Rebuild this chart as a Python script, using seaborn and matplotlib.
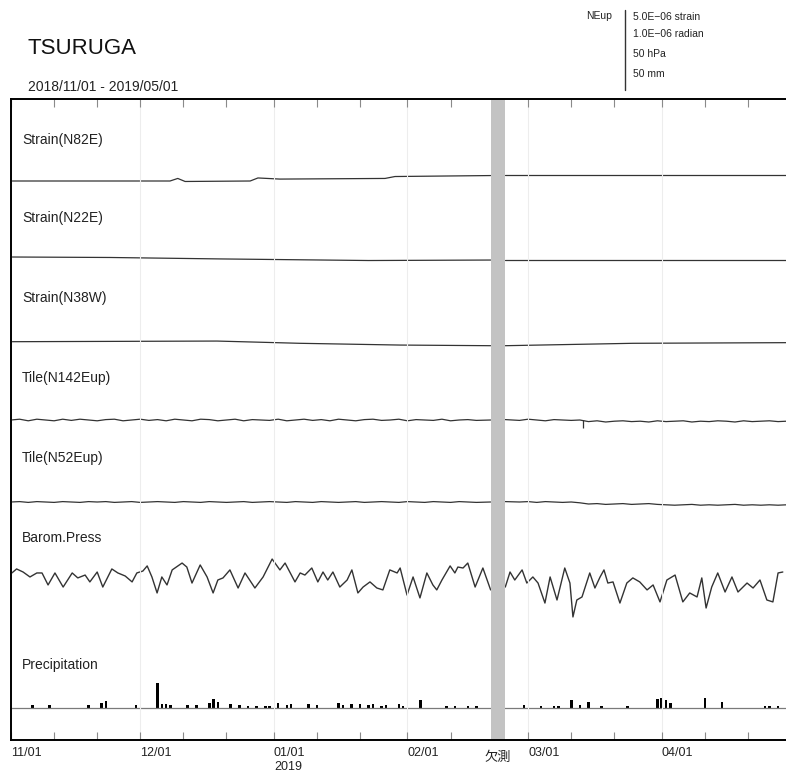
import numpy as np
import pandas as pd
import matplotlib
matplotlib.use("Agg")
import matplotlib.pyplot as plt
import matplotlib.dates as mdates
import matplotlib.transforms as mtransforms
from matplotlib.lines import Line2D
import seaborn as sns

sns.set_theme(style="white")
plt.rcParams["font.family"] = ["Liberation Sans", "Noto Sans CJK JP", "DejaVu Sans"]

# --- DATI (giorni dal 2018/11/01) ---
START = pd.Timestamp("2018-11-01")
END = pd.Timestamp("2019-05-01")
gap_start = pd.Timestamp("2019-02-20 10:00")
gap_end = pd.Timestamp("2019-02-23 14:00")

# strain in unita' di 1e-6
n82e_days = [0, 36.9, 38.7, 40.4, 55.5, 57.3, 62.4, 86.8, 89.1, 111.3, 114.7, 179.8]
n82e_vals = [0.0, 0.0, 0.16, -0.03, 0.0, 0.19, 0.12, 0.16, 0.28, 0.34, 0.37, 0.37]

n22e_days = [0, 23, 48.5, 83, 111.3, 114.7, 140, 180]
n22e_vals = [0.0, -0.03, -0.12, -0.22, -0.19, -0.19, -0.19, -0.19]

n38w_days = [0, 47.8, 67, 90.3, 111.3, 114.7, 144.3, 180]
n38w_vals = [0.0, 0.04, -0.1, -0.21, -0.25, -0.25, -0.1, -0.06]

# tilt in unita' di 1e-6 rad, un campione ogni 2 giorni circa (buco 111-115)
tilt_days = list(range(0, 110, 2)) + [111.3] + [114.7] + list(range(118, 181, 2))
n142_vals = [0.00, 0.01, -0.01, 0.01, 0.00, -0.01, 0.01, -0.005, 0.01, 0.0,
             -0.01, 0.005, 0.01, -0.01, 0.0, 0.01, -0.005, 0.005, -0.01, 0.01,
             0.0, -0.01, 0.01, 0.005, -0.01, 0.0, 0.01, -0.01, 0.005, 0.0,
             -0.005, 0.01, -0.01, 0.0, 0.01, -0.005, 0.005, -0.01, 0.01, 0.0,
             -0.01, 0.005, 0.01, -0.005, 0.0, 0.01, -0.01, 0.005, 0.0, -0.005,
             0.01, -0.01, 0.0, 0.005, -0.005, 0.0,
             0.005, -0.005, 0.01, 0.0, -0.01, 0.005, 0.0, -0.005, 0.0,
             -0.02, -0.01, -0.025, -0.015, -0.01, -0.02, -0.015, -0.025, -0.01, -0.02,
             -0.015, -0.01, -0.025, -0.015, -0.02, -0.01, -0.015, -0.025, -0.01, -0.02,
             -0.015, -0.01, -0.02, -0.015]
n142_spike_day = 132.7
n142_spike_val = -0.1

n52_vals = [0.0, 0.005, -0.005, 0.005, 0.0, -0.005, 0.005, 0.0, -0.005, 0.005,
            0.0, 0.005, -0.005, 0.0, 0.005, -0.005, 0.0, 0.005, 0.0, -0.005,
            0.005, 0.0, -0.005, 0.005, 0.0, -0.005, 0.0, 0.005, -0.005, 0.0,
            0.005, 0.0, -0.005, 0.005, 0.0, -0.005, 0.005, 0.0, -0.005, 0.0,
            0.005, -0.005, 0.0, 0.005, 0.0, -0.005, 0.005, 0.0, -0.005, 0.005,
            0.0, -0.005, 0.005, 0.0, -0.005, 0.0,
            0.005, 0.0, 0.005, -0.005, 0.005, 0.0, -0.005, 0.0, -0.01,
            -0.025, -0.02, -0.03, -0.025, -0.02, -0.03, -0.025, -0.02, -0.03,
            -0.035, -0.04, -0.035, -0.03, -0.04, -0.035, -0.04, -0.035, -0.03, -0.04,
            -0.035, -0.04, -0.035, -0.04, -0.035]

# pressione (hPa)
barom_days = [0.2, 1.3, 2.8, 4.4, 6.0, 7.2, 8.6, 10.2, 12.1, 14.2, 15.5, 17.2, 18.3, 20.0, 21.3,
              23.4, 24.8, 26.5, 28.1, 29.2, 30.6, 31.6, 32.7, 33.9, 35.0, 36.2, 37.4, 39.7, 40.8,
              42.0, 43.9, 45.5, 46.9, 48.0, 49.2, 50.8, 52.7, 54.3, 56.6, 58.5, 60.6, 62.4, 63.6,
              65.9, 67.1, 68.2, 69.8, 71.2, 72.4, 73.5, 74.7, 76.3, 78.0, 79.1, 80.5, 81.7, 83.3,
              84.9, 86.3, 87.9, 89.6, 90.3, 91.9, 93.3, 94.9, 96.5, 97.9, 98.8, 100.0, 101.9,
              103.0, 103.7, 104.9, 106.0, 107.7, 109.5, 111.3,
              114.7, 115.8, 116.9, 118.6, 119.7, 121.1, 122.3, 123.9, 125.1, 126.7, 128.5, 129.7,
              130.4, 131.3, 132.5, 134.3, 135.5, 136.7, 137.6, 138.5, 139.7, 141.3, 142.9, 144.3,
              145.9, 147.6, 149.0, 150.6, 152.2, 154.1, 155.9, 157.5, 159.2, 160.3, 161.3, 162.6,
              164.0, 165.7, 167.3, 168.7, 170.8, 172.2, 173.8, 175.4, 176.8, 178.0, 179.1]
barom_hpa = [1019.4, 1021.9, 1020.0, 1016.9, 1019.4, 1019.4, 1011.9, 1019.4, 1010.6, 1019.4,
             1016.3, 1018.1, 1013.8, 1020.0, 1010.6, 1021.9, 1019.4, 1017.5, 1013.8, 1019.4,
             1020.6, 1023.8, 1016.9, 1006.9, 1016.9, 1011.9, 1021.3, 1025.6, 1023.1, 1013.1,
             1024.4, 1016.9, 1006.9, 1015.0, 1016.3, 1021.3, 1010.0, 1019.4, 1010.0, 1016.9,
             1028.1, 1021.3, 1025.6, 1013.8, 1019.4, 1018.1, 1022.5, 1013.8, 1020.0, 1015.0,
             1020.0, 1010.6, 1015.0, 1021.3, 1006.9, 1010.6, 1013.8, 1010.0, 1008.8, 1021.3,
             1019.4, 1022.5, 1005.6, 1016.9, 1003.8, 1019.4, 1011.9, 1008.8, 1015.0, 1023.8,
             1019.4, 1023.1, 1022.5, 1025.6, 1010.6, 1022.5, 1008.8,
             1010.6, 1020.0, 1015.0, 1021.3, 1013.1, 1016.9, 1013.1, 1000.6, 1016.9, 1002.5,
             1022.5, 1013.1, 991.9, 1002.5, 1004.4, 1019.4, 1010.0, 1016.9, 1021.3, 1013.1,
             1013.8, 1000.6, 1013.1, 1016.3, 1013.8, 1008.8, 1011.9, 1001.3, 1015.0, 1018.1,
             1001.3, 1006.9, 1004.4, 1016.3, 997.5, 1010.6, 1019.4, 1007.5, 1016.9, 1007.5,
             1013.1, 1010.0, 1015.0, 1002.5, 1001.3, 1019.4, 1020.0]

# precipitazione giornaliera (mm)
precip_days = [5, 9, 18, 21, 22, 29, 34, 35, 36, 37, 41, 43, 46, 47, 48, 51, 53, 55, 57, 59,
               60, 62, 64, 65, 69, 71, 76, 77, 79, 81, 83, 84, 86, 87, 90, 91, 95, 101, 103, 106,
               108, 119, 123, 126, 127, 130, 132, 134, 137, 143, 150, 151, 152, 153, 161, 165,
               175, 176, 178]
precip_mm = [1.9, 2.0, 2.0, 3.0, 4.5, 2.0, 15.6, 2.5, 2.5, 2.0, 2.0, 2.0, 3.0, 5.5, 4.0, 2.5,
             2.0, 1.0, 1.3, 1.0, 1.0, 3.0, 2.0, 2.5, 2.5, 2.0, 3.0, 2.0, 2.5, 2.5, 2.0, 2.5, 1.5,
             2.0, 2.5, 1.5, 5.0, 1.5, 1.5, 1.5, 1.5, 2.0, 1.2, 1.5, 1.5, 5.0, 2.0, 4.0, 1.5, 1.0,
             5.5, 6.0, 5.0, 3.0, 6.5, 3.5, 1.3, 1.2, 1.0]

panel_labels = ["Strain(N82E)", "Strain(N22E)", "Strain(N38W)", "Tile(N142Eup)",
                "Tile(N52Eup)", "Barom.Press", "Precipitation"]

# --- LAYOUT (pixel) ---
W, H = 786, 780
LEFT, RIGHT, TOP, BOT = 11, 791, 99, 740
label_px = [140, 218, 298, 378, 458, 538, 665]
LINE_COLOR = "#333333"


def fx(px):
    return px / W


def fy(py):
    return 1 - py / H


fig = plt.figure(figsize=(W / 100, H / 100), dpi=100)
rect = [fx(LEFT), fy(BOT), (RIGHT - LEFT) / W, (BOT - TOP) / H]

frame = fig.add_axes(rect)
frame.set_zorder(10)
frame.patch.set_visible(False)
frame.set_xlim(START, END)


def to_dates(days):
    return START + pd.to_timedelta(np.asarray(days, dtype=float), unit="D")


def panel(anchor_px, anchor_val, px_per_unit):
    ax = fig.add_axes(rect, sharex=frame)
    ax.set_ylim(anchor_val - (BOT - anchor_px) / px_per_unit,
                anchor_val + (anchor_px - TOP) / px_per_unit)
    ax.set_axis_off()
    return ax


def trace(ax, days, vals, lw=0.9):
    d = pd.DataFrame({"date": to_dates(days), "v": vals})
    d["seg"] = (d["date"] > gap_start).astype(int)
    sns.lineplot(data=d, x="date", y="v", units="seg", estimator=None, ax=ax,
                 color=LINE_COLOR, linewidth=lw, legend=False)


# strain: 5.0E-06 = 80 px
ax = panel(181, 0.0, 80 / 5.0)
trace(ax, n82e_days, n82e_vals)
ax = panel(257, 0.0, 80 / 5.0)
trace(ax, n22e_days, n22e_vals)
ax = panel(341.7, 0.0, 80 / 5.0)
trace(ax, n38w_days, n38w_vals)

# tilt: 1.0E-06 rad = 80 px
ax = panel(420, 0.0, 80 / 1.0)
trace(ax, tilt_days, n142_vals)
ax.vlines(to_dates([n142_spike_day]), n142_spike_val, 0, color=LINE_COLOR, lw=0.9)
ax = panel(502, 0.0, 80 / 1.0)
trace(ax, tilt_days, n52_vals)

# pressione: 50 hPa = 80 px
ax = panel(580, 1015.0, 80 / 50)
trace(ax, barom_days, barom_hpa, lw=1.0)

# pioggia: 50 mm = 80 px
ax = panel(708, 0.0, 80 / 50)
ax.axhline(0, color="#7a7a7a", lw=0.9)
ax.bar(to_dates(precip_days), precip_mm, width=0.6, color="black", linewidth=0)

# --- CORNICE, BANDA, TICK ---
frame.axvspan(gap_start, gap_end, color="#c3c3c3", lw=0)
frame.set_yticks([])
frame.xaxis.set_major_locator(mdates.MonthLocator())
frame.xaxis.set_minor_locator(mdates.DayLocator(bymonthday=[11, 21]))


def month_label(x, pos):
    d = mdates.num2date(x)
    if d.month == 5:
        return ""
    s = d.strftime("%m/%d")
    if d.month == 1:
        s += "\n2019"
    return s


frame.xaxis.set_major_formatter(plt.FuncFormatter(month_label))
frame.tick_params(axis="x", which="both", top=True, bottom=True, direction="in",
                  length=6, width=0.8, color="#8a8a8a", labelsize=9, pad=5,
                  labelcolor="#222222")
frame.grid(axis="x", which="major", color="#ededed", lw=0.8)
plt.setp(frame.get_xticklabels(), ha="left")

for side in ["left", "top", "bottom"]:
    frame.spines[side].set_color("black")
    frame.spines[side].set_linewidth(1.4)
frame.spines["right"].set_visible(False)

for lab, py in zip(panel_labels, label_px):
    frame.text(0.014, (BOT - py) / (BOT - TOP), lab, transform=frame.transAxes,
               va="center", ha="left", fontsize=10, color="#222222")

trans = mtransforms.blended_transform_factory(frame.transData, frame.transAxes)
gap_mid = gap_start + (gap_end - gap_start) / 2
frame.text(gap_mid, -(757 - BOT) / (BOT - TOP), "欠測", transform=trans, ha="center",
           va="center", fontsize=9.5, family=["Noto Sans CJK JP"], color="#222222")

# --- TITOLO E SCALA ---
fig.text(fx(27), fy(49), "TSURUGA", fontsize=16, va="center", ha="left", color="#111111")
fig.text(fx(28), fy(87), "2018/11/01 - 2019/05/01", fontsize=10, va="center", ha="left",
         color="#222222")

fig.text(fx(612), fy(16), "NEup", fontsize=7.5, ha="right", va="center", color="#222222")
fig.add_artist(Line2D([fx(625), fx(625)], [fy(10), fy(90)], transform=fig.transFigure,
                      color="#333333", lw=1.0))
for txt, py in zip(["5.0E\u221206 strain", "1.0E\u221206 radian", "50 hPa", "50 mm"],
                   [17, 34, 54, 74]):
    fig.text(fx(633), fy(py), txt, fontsize=7.5, ha="left", va="center", color="#222222")

fig.savefig("out.png", dpi=100)
